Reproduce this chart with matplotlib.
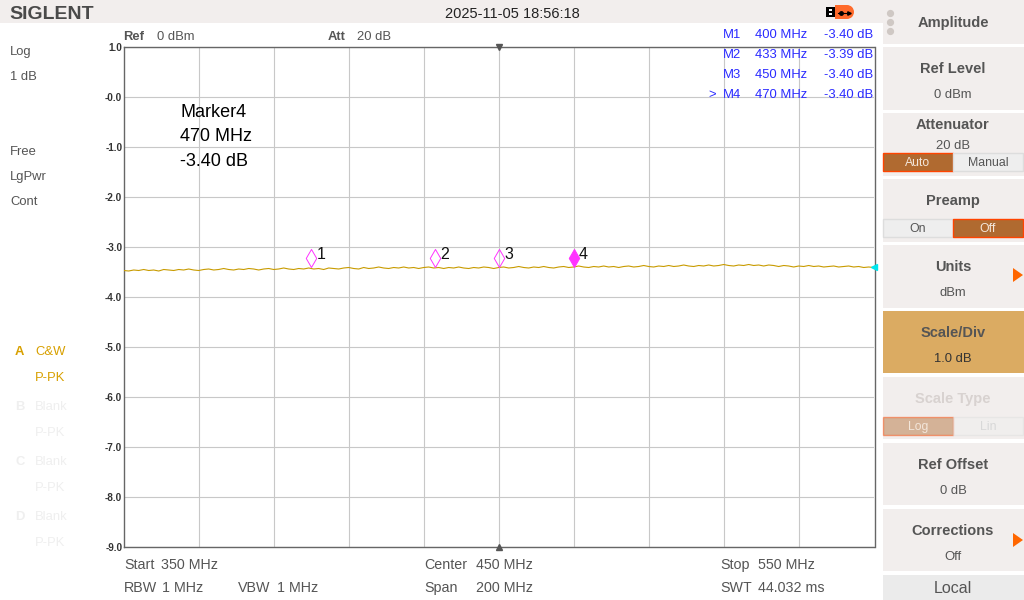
"""Spectrum analyzer screen: flat trace with four markers."""

import matplotlib

matplotlib.use("Agg")
import matplotlib.pyplot as plt
import numpy as np
from matplotlib.patches import Circle, Polygon, Rectangle
from matplotlib.path import Path

plt.rcParams["font.family"] = ["Liberation Sans", "DejaVu Sans"]

START_MHZ = 350
STOP_MHZ = 550
Y_TICKS = [1, 0, -1, -2, -3, -4, -5, -6, -7, -8, -9]
Y_TICK_LABELS = ["1.0", "-0.0", "-1.0", "-2.0", "-3.0", "-4.0", "-5.0", "-6.0", "-7.0", "-8.0", "-9.0"]
X_GRID_MHZ = [370, 390, 410, 430, 450, 470, 490, 510, 530]

MARKER_FREQS = [400, 433, 450, 470]
MARKER_LEVELS = [-3.40, -3.39, -3.40, -3.40]
MARKER_NAMES = ["1", "2", "3", "4"]

# 350 to 550 MHz, evenly spaced sweep points
TRACE_DB = [
    -3.47, -3.48, -3.46, -3.47, -3.45, -3.47, -3.46, -3.48, -3.45, -3.46,
    -3.47, -3.45, -3.46, -3.44, -3.46, -3.47, -3.45, -3.44, -3.46, -3.45,
    -3.43, -3.45, -3.46, -3.44, -3.45, -3.43, -3.44, -3.46, -3.44, -3.43,
    -3.45, -3.44, -3.42, -3.44, -3.45, -3.43, -3.44, -3.42, -3.44, -3.43,
    -3.45, -3.42, -3.43, -3.44, -3.42, -3.41, -3.43, -3.44, -3.41, -3.43,
    -3.42, -3.40, -3.42, -3.43, -3.41, -3.42, -3.40, -3.42, -3.41, -3.43,
    -3.41, -3.40, -3.42, -3.41, -3.43, -3.41, -3.42, -3.40, -3.42, -3.43,
    -3.41, -3.42, -3.40, -3.41, -3.43, -3.41, -3.40, -3.42, -3.41, -3.39,
    -3.41, -3.42, -3.40, -3.41, -3.39, -3.41, -3.42, -3.40, -3.39, -3.41,
    -3.40, -3.38, -3.40, -3.41, -3.39, -3.40, -3.38, -3.40, -3.39, -3.41,
    -3.39, -3.38, -3.40, -3.39, -3.37, -3.39, -3.40, -3.38, -3.39, -3.37,
    -3.39, -3.38, -3.36, -3.38, -3.39, -3.37, -3.38, -3.36, -3.38, -3.37,
    -3.35, -3.37, -3.38, -3.36, -3.37, -3.35, -3.37, -3.36, -3.38, -3.36,
    -3.37, -3.39, -3.37, -3.38, -3.40, -3.38, -3.39, -3.37, -3.39, -3.38,
    -3.40, -3.39, -3.38, -3.40, -3.39, -3.38, -3.40, -3.39, -3.41, -3.40,
    -3.41,
]

TABLE_NAMES = ["M1", "M2", "M3", "M4"]
TABLE_FREQS = ["400 MHz", "433 MHz", "450 MHz", "470 MHz"]
TABLE_VALUES = ["-3.40 dB", "-3.39 dB", "-3.40 dB", "-3.40 dB"]
MARKER_INFO = ["Marker4", "470 MHz", "-3.40 dB"]

# title, value, panel top, panel bottom
MENU_ITEMS = [
    ("Ref Level", "0 dBm", 47, 110),
    ("Attenuator", "20 dB", 113, 176),
    ("Preamp", None, 179, 242),
    ("Units", "dBm", 245, 308),
    ("Scale/Div", "1.0 dB", 311, 373),
    ("Scale Type", None, 377, 439),
    ("Ref Offset", "0 dB", 443, 505),
    ("Corrections", "Off", 509, 571),
]

GREY = "#555555"
FAINT = "#efefef"
PANEL = "#f2eeed"
GOLD = "#d8a000"
TRACE = "#c89b00"
BLUE = "#2a2aff"
ORANGE = "#ff6600"
PINK = "#ff33ff"


def marker_path():
    # tip sits on the trace point, body above it
    return Path([(0, 0), (-0.58, 1), (0, 2), (0.58, 1), (0, 0)], closed=True)


def main():
    fig = plt.figure(figsize=(10.24, 6), dpi=100, facecolor="white")

    ax = fig.add_axes([123.7 / 1024, 1 - 547 / 600, 750 / 1024, 500 / 600])
    # moving a spine resets the ticks, so this has to come first
    ax.spines["right"].set_position(("outward", 0.8))
    ax.set_xlim(START_MHZ, STOP_MHZ)
    ax.set_ylim(-9, 1)
    ax.set_xticks(X_GRID_MHZ)
    ax.set_yticks(Y_TICKS)
    ax.set_yticklabels(Y_TICK_LABELS, fontsize=7.2, fontweight="bold", color="#333333")
    ax.tick_params(axis="x", length=0, labelbottom=False)
    ax.tick_params(axis="y", length=0, pad=1)
    ax.grid(True, color="#c8c8c8", linewidth=0.8)
    ax.set_axisbelow(True)
    for spine in ax.spines.values():
        spine.set_color("#666666")
        spine.set_linewidth(1)

    freqs = np.linspace(START_MHZ, STOP_MHZ, len(TRACE_DB))
    ax.plot(freqs, TRACE_DB, color=TRACE, linewidth=0.8, zorder=3)

    for i, (f, level, name) in enumerate(zip(MARKER_FREQS, MARKER_LEVELS, MARKER_NAMES)):
        active = i == len(MARKER_FREQS) - 1
        ax.plot([f], [level], marker=marker_path(), markersize=26, linestyle="none",
                markerfacecolor=PINK if active else "none", markeredgecolor=PINK,
                markeredgewidth=0.7, zorder=4)
        ax.annotate(name, (f, level), xytext=(3.8, 5.5), textcoords="offset points",
                    fontsize=11.5, color="#111111", zorder=5)

    ax.plot([STOP_MHZ], [-3.40], marker="<", markersize=5, color="#00e5ee", clip_on=False,
            linestyle="none", zorder=5)
    ax.plot([450], [1], marker="v", markersize=4, color="#555555", clip_on=False, zorder=5)
    ax.plot([450], [-9], marker="^", markersize=4, color="#555555", clip_on=False, zorder=5)

    # screen furniture is laid out in pixels on a transparent overlay
    ui = fig.add_axes([0, 0, 1, 1], zorder=3)
    ui.set_xlim(0, 1024)
    ui.set_ylim(600, 0)
    ui.axis("off")

    def label(x, y, s, size=9.4, color=GREY, weight="normal", ha="left"):
        # baseline anchored so neighbouring strings line up whatever their glyphs
        baseline = y + size * 0.5 + 0.3
        ui.text(x, baseline, s, fontsize=size, color=color, fontweight=weight, ha=ha, va="baseline")

    def panel(top, bottom, color=PANEL):
        ui.add_patch(Rectangle((883, top), 141, bottom - top, facecolor=color, edgecolor="none"))

    # top bar
    ui.add_patch(Rectangle((0, 0), 883, 23, facecolor=PANEL, edgecolor="none"))
    label(9, 12, "SIGLENT", size=14, color="#4a4a4a", weight="bold")
    label(512, 12.5, "2025-11-05 18:56:18", size=10.5, color="#222222", ha="center")
    ui.add_patch(Rectangle((826, 7), 9, 10, facecolor="black", edgecolor="none"))
    ui.add_patch(Rectangle((829, 9), 2.5, 2, facecolor="white", edgecolor="none"))
    ui.add_patch(Rectangle((829, 13), 2.5, 2, facecolor="white", edgecolor="none"))
    ui.add_patch(Rectangle((835, 5), 12, 14, facecolor="#ff6a2b", edgecolor="none"))
    ui.add_patch(Circle((847, 12), 7, facecolor="#ff6a2b", edgecolor="none"))
    ui.plot([838, 850], [12.5, 12.5], color="black", linewidth=0.8)
    ui.plot([849], [12.5], marker=">", markersize=2.5, color="black")
    ui.plot([841], [12.5], marker="o", markersize=2.5, color="black")

    # header row and marker table
    label(123, 35, "Ref", weight="bold")
    label(157, 35, "0 dBm")
    label(328, 35, "Att", weight="bold")
    label(357, 35, "20 dB")
    label(708, 93, ">", color=BLUE)
    for y, name, freq, value in zip([33, 53, 73, 93], TABLE_NAMES, TABLE_FREQS, TABLE_VALUES):
        label(723, y, name, color=BLUE)
        label(755, y, freq, color=BLUE)
        label(873, y, value, color=BLUE, ha="right")
    for y, s in zip([110, 134, 159], MARKER_INFO):
        label(180, y, s, size=13, color="black")

    # left column
    for y, s in zip([50, 75, 150, 175, 200], ["Log", "1 dB", "Free", "LgPwr", "Cont"]):
        label(10, y, s)
    label(15, 350, "A", color=GOLD, weight="bold")
    label(35, 350, "C&W", color=GOLD)
    label(35, 376, "P-PK", color=GOLD)
    for y, s in zip([405, 460, 515], ["B", "C", "D"]):
        label(15, y, s, color=FAINT, weight="bold")
        label(35, y, "Blank", color=FAINT)
        label(35, y + 26, "P-PK", color=FAINT)

    # bottom rows
    for x, y, a, b, gap in [(124, 564, "Start", "350 MHz", 37), (124, 587, "RBW", "1 MHz", 38),
                            (238, 587, "VBW", "1 MHz", 39), (424, 564, "Center", "450 MHz", 52),
                            (424, 587, "Span", "200 MHz", 52), (720, 564, "Stop", "550 MHz", 38),
                            (720, 587, "SWT", "44.032 ms", 38)]:
        label(x, y, a, size=10.3)
        label(x + gap, y, b, size=10.3)

    # right menu
    panel(0, 44)
    label(953, 21.5, "Amplitude", size=10.5, weight="bold", ha="center")
    for y in [13, 22, 31]:
        ui.plot([890], [y], marker="o", markersize=4.2, color="#cfc8c4")

    for title, value, top, bottom in MENU_ITEMS:
        hot = title == "Scale/Div"
        off = title == "Scale Type"
        panel(top, bottom, "#dbab62" if hot else PANEL)
        title_y = top + 10 if title == "Attenuator" else top + 20
        label(953, title_y, title, size=10.5, weight="bold", ha="center",
              color="#d8d2d0" if off else GREY)
        if value is not None:
            value_y = top + 31 if title == "Attenuator" else top + 46.5
            label(953, value_y, value, ha="center", color="#333333" if hot else GREY)

    panel(575, 600, "#ebebeb")
    label(953, 587, "Local", size=11.5, ha="center")

    def toggle(y, left, right, on_left, faded=False):
        alpha = 0.45 if faded else 1
        on = dict(facecolor="#b06a30", edgecolor="#ff4400", linewidth=1, alpha=alpha)
        idle = dict(facecolor="#eeeeee", edgecolor="#dddddd", linewidth=1, alpha=alpha)
        ui.add_patch(Rectangle((883, y), 70, 18, **(on if on_left else idle)))
        ui.add_patch(Rectangle((953, y), 70, 18, **(idle if on_left else on)))
        text_on = "#f3e6da"
        text_off = "#d8d8d8" if faded else GREY
        label(918, y + 8, left, size=8.8, color=text_on if on_left else text_off, ha="center")
        label(988, y + 8, right, size=8.8, color=text_off if on_left else text_on, ha="center")

    toggle(153, "Auto", "Manual", True)
    toggle(219, "On", "Off", False)
    toggle(417, "Log", "Lin", True, faded=True)

    for y in [275, 540]:
        ui.add_patch(Polygon([(1013, y - 7), (1023, y), (1013, y + 7)], facecolor=ORANGE, edgecolor="none"))

    fig.savefig("out.png", dpi=100)
    plt.close(fig)


if __name__ == "__main__":
    main()
